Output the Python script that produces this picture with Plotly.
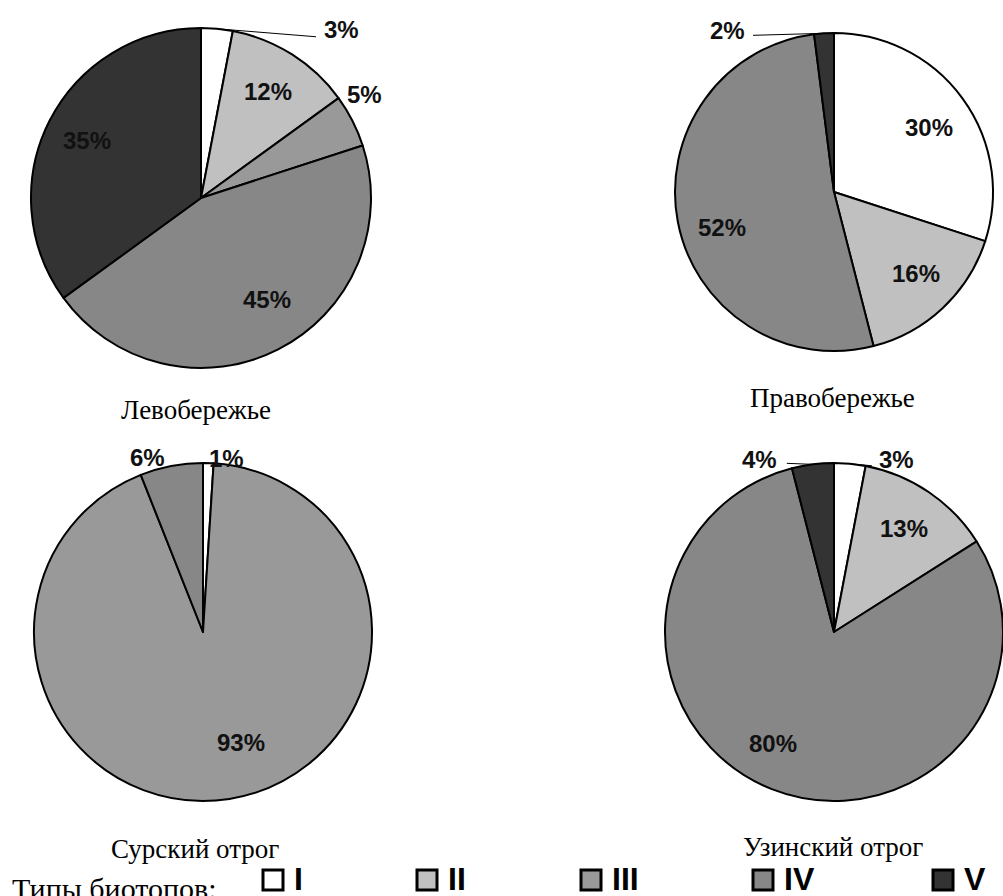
import math
import plotly.graph_objects as go

# Biotope types and their fill colours
types = ["I", "II", "III", "IV", "V"]
type_colors = {"I": "#ffffff", "II": "#c0c0c0", "III": "#999999", "IV": "#878787", "V": "#333333"}

# Share of each biotope type (%) per territory, clockwise from 12 o'clock
left_bank_types = ["I", "II", "III", "IV", "V"]
left_bank_values = [3, 12, 5, 45, 35]

right_bank_types = ["I", "II", "IV", "V"]
right_bank_values = [30, 16, 52, 2]

sura_types = ["I", "III", "IV"]
sura_values = [1, 93, 6]

uza_types = ["I", "II", "IV", "V"]
uza_values = [3, 13, 80, 4]

titles = ["Левобережье", "Правобережье", "Сурский отрог", "Узинский отрог"]
legend_title = "Типы биотопов:"

W, H = 1003, 896

# Layout of each pie in pixels: centre, radius, title position and label placement.
# Label spec: ("in", radius_fraction, angle_shift_deg) or
#             ("out", dx, dy, xanchor, leader_dx, leader_dy) relative to the arc midpoint.
pies = [
    dict(types=left_bank_types, values=left_bank_values, cx=201, cy=198, r=170,
         title=titles[0], tx=196, ty=410,
         labels=[("out", 105, 1, "left", 99, 8),
                 ("in", 0.74, 0),
                 ("out", 12, -26, "center", None, None),
                 ("in", 0.71, -6),
                 ("in", 0.75, 0)]),
    dict(types=right_bank_types, values=right_bank_values, cx=834, cy=192, r=159,
         title=titles[1], tx=832, ty=398,
         labels=[("in", 0.72, 2),
                 ("in", 0.73, -2),
                 ("in", 0.74, -7),
                 ("out", -77, -3, "right", -71, 2)]),
    dict(types=sura_types, values=sura_values, cx=203, cy=632, r=169,
         title=titles[2], tx=195, ty=849,
         labels=[("out", 18, -5, "center", None, None),
                 ("in", 0.69, -10),
                 ("out", -24, -8, "center", None, None)]),
    dict(types=uza_types, values=uza_values, cx=834, cy=632, r=169,
         title=titles[3], tx=833, ty=847,
         labels=[("out", 27, -4, "left", 22, 2),
                 ("in", 0.74, 0),
                 ("in", 0.75, 7),
                 ("out", -34, -5, "right", -26, -1)]),
]


def px(x):
    return min(1.0, max(0.0, x / W))


def py(y):
    return min(1.0, max(0.0, 1 - y / H))


def fx(x):
    return x / W


def fy(y):
    return 1 - y / H


label_font = dict(family="Liberation Sans, Arial, sans-serif", size=24, color="#111111")
title_font = dict(family="Liberation Serif, Times New Roman, serif", size=27, color="#000000")

fig = go.Figure()
annotations = []
shapes = []

for p in pies:
    cx, cy, r = p["cx"], p["cy"], p["r"]
    fig.add_trace(go.Pie(
        labels=p["types"],
        values=p["values"],
        sort=False,
        direction="clockwise",
        rotation=0,
        marker=dict(colors=[type_colors[t] for t in p["types"]],
                    line=dict(color="#000000", width=2)),
        textinfo="none",
        hoverinfo="label+percent",
        showlegend=False,
        domain=dict(x=[px(cx - r), px(cx + r)], y=[py(cy + r), py(cy - r)]),
    ))

    total = sum(p["values"])
    start = 0.0
    for v, spec in zip(p["values"], p["labels"]):
        sweep = 360.0 * v / total
        mid = start + sweep / 2
        start += sweep
        text = f"<b>{v}%</b>"
        if spec[0] == "in":
            frac, shift = spec[1], spec[2]
            a = math.radians(mid + shift)
            lx = cx + frac * r * math.sin(a)
            ly = cy - frac * r * math.cos(a)
            annotations.append(dict(x=fx(lx), y=fy(ly), xref="paper", yref="paper",
                                    text=text, showarrow=False, font=label_font,
                                    xanchor="center", yanchor="middle"))
        else:
            _, dx, dy, xanchor, ldx, ldy = spec
            a = math.radians(mid)
            ax = cx + r * math.sin(a)
            ay = cy - r * math.cos(a)
            annotations.append(dict(x=fx(ax + dx), y=fy(ay + dy), xref="paper", yref="paper",
                                    text=text, showarrow=False, font=label_font,
                                    xanchor=xanchor, yanchor="middle"))
            if ldx is not None:
                shapes.append(dict(type="line", xref="paper", yref="paper",
                                   x0=fx(ax), y0=fy(ay), x1=fx(ax + ldx), y1=fy(ay + ldy),
                                   line=dict(color="#000000", width=1)))

    annotations.append(dict(x=fx(p["tx"]), y=fy(p["ty"]), xref="paper", yref="paper",
                            text=p["title"], showarrow=False, font=title_font,
                            xanchor="center", yanchor="middle"))

# Legend row drawn along the bottom edge
legend_square_x = [263, 417, 581, 753, 933]
legend_y0, legend_y1 = 870, 890
annotations.append(dict(x=fx(10), y=fy(888), xref="paper", yref="paper",
                        text=legend_title, showarrow=False,
                        font=dict(family="Liberation Serif, Times New Roman, serif", size=30, color="#000000"),
                        xanchor="left", yanchor="middle"))
for t, sx in zip(types, legend_square_x):
    shapes.append(dict(type="rect", xref="paper", yref="paper",
                       x0=fx(sx), x1=fx(sx + 20), y0=fy(legend_y1), y1=fy(legend_y0),
                       fillcolor=type_colors[t], line=dict(color="#000000", width=3)))
    annotations.append(dict(x=fx(sx + 29), y=fy(879), xref="paper", yref="paper",
                            text=f"<b>{t}</b>", showarrow=False,
                            font=dict(family="Liberation Sans, Arial, sans-serif", size=32, color="#000000"),
                            xanchor="left", yanchor="middle"))

fig.update_layout(
    width=W, height=H,
    margin=dict(l=0, r=0, t=0, b=0),
    paper_bgcolor="#ffffff",
    plot_bgcolor="#ffffff",
    annotations=annotations,
    shapes=shapes,
)

fig.write_html("out.html")
